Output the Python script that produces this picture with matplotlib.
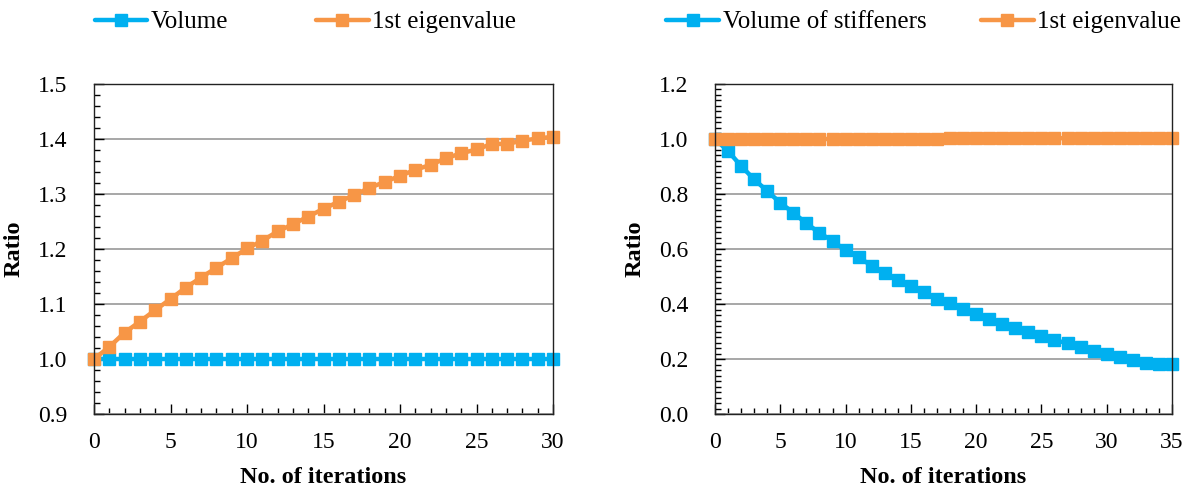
import matplotlib
matplotlib.use("Agg")
import matplotlib.pyplot as plt
from matplotlib.ticker import MultipleLocator

plt.rcParams['font.family'] = ['Liberation Serif', 'DejaVu Serif']

# ---- data ----
iters_left = list(range(0, 31))
volume_left = [1.0] * 31
eig_left = [1.000, 1.022, 1.048, 1.068, 1.089, 1.109, 1.130, 1.148, 1.166, 1.183,
            1.201, 1.215, 1.232, 1.245, 1.259, 1.273, 1.286, 1.298, 1.311, 1.322,
            1.333, 1.344, 1.353, 1.365, 1.374, 1.381, 1.391, 1.391, 1.397, 1.401,
            1.404]

iters_right = list(range(0, 36))
vol_stiff = [1.000, 0.956, 0.902, 0.853, 0.811, 0.768, 0.732, 0.693, 0.659, 0.629,
             0.596, 0.570, 0.539, 0.512, 0.487, 0.467, 0.445, 0.417, 0.402, 0.381,
             0.364, 0.344, 0.327, 0.313, 0.298, 0.284, 0.269, 0.257, 0.242, 0.230,
             0.217, 0.206, 0.196, 0.187, 0.181, 0.181]
eig_right = [1.000] * 18 + [1.003] * 18

BLUE = '#00B0F0'
ORANGE = '#F79646'

W, H = 1189, 493
fig = plt.figure(figsize=(W / 100, H / 100), dpi=100)

def px_axes(x0, x1, y0, y1):
    return fig.add_axes([x0 / W, 1 - y1 / H, (x1 - x0) / W, (y1 - y0) / H])

axL = px_axes(94, 553, 84, 414)
axR = px_axes(715, 1172, 84, 414)

mk = dict(marker='s', markersize=9.2, linewidth=3.2, solid_capstyle='round')

axL.plot(iters_left, volume_left, color=BLUE, label='Volume', **mk)
axL.plot(iters_left, eig_left, color=ORANGE, label='1st eigenvalue', **mk)
axR.plot(iters_right, vol_stiff, color=BLUE, label='Volume of stiffeners', **mk)
axR.plot(iters_right, eig_right, color=ORANGE, label='1st eigenvalue', **mk)

def style(ax, xmax, ymin, ymax, ymaj, ymin_step, fmt):
    ax.set_xlim(0, xmax)
    ax.set_ylim(ymin, ymax)
    ax.xaxis.set_major_locator(MultipleLocator(5))
    ax.xaxis.set_minor_locator(MultipleLocator(1))
    ax.yaxis.set_major_locator(MultipleLocator(ymaj))
    ax.yaxis.set_minor_locator(MultipleLocator(ymin_step))
    ax.yaxis.set_major_formatter(plt.FormatStrFormatter(fmt))
    ax.tick_params(which='major', direction='in', length=7, width=1, labelsize=17)
    ax.tick_params(which='minor', direction='in', length=4, width=1)
    ax.tick_params(axis='y', which='both', pad=19)
    ax.tick_params(axis='x', which='both', pad=13)
    ax.tick_params(axis='y', which='both', right=False)
    ax.grid(axis='y', which='major', color='#A0A0A0', linewidth=1.3)
    ax.set_axisbelow(True)
    for s in ax.spines.values():
        s.set_linewidth(1.0)
        s.set_color('#222222')
    ax.set_xlabel('No. of iterations', fontsize=17.5, fontweight='bold', labelpad=10)
    ax.set_ylabel('Ratio', fontsize=17.5, fontweight='bold', labelpad=10)

style(axL, 30, 0.9, 1.5, 0.1, 0.02, '%.1f')
style(axR, 35, 0.0, 1.2, 0.2, 0.02, '%.1f')

for ax in (axL, axR):
    for ln in ax.lines:
        ln.set_clip_on(False)

axL.legend(loc='center', bbox_to_anchor=(0.257, 0.955), bbox_transform=fig.transFigure,
           ncol=2, frameon=False, fontsize=18, handlelength=2.1, handletextpad=0.15,
           columnspacing=3.5, borderaxespad=0)
axR.legend(loc='center', bbox_to_anchor=(0.777, 0.955), bbox_transform=fig.transFigure,
           ncol=2, frameon=False, fontsize=18, handlelength=2.1, handletextpad=0.15,
           columnspacing=2.2, borderaxespad=0)

fig.savefig('out.png', dpi=100)
